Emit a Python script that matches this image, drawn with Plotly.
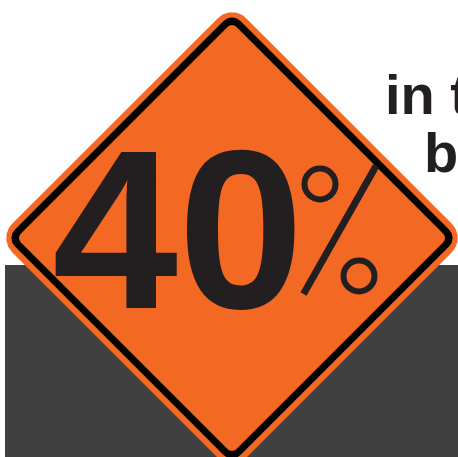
import numpy as np
import plotly.graph_objects as go

# Content
percent_value = ["40"]
percent_sign_parts = ["upper ring", "slash", "lower ring"]
headline_lines = ["in t", "be"]

# Colours
ORANGE = "#F36823"
BLACK = "#050300"
INK = "#231F20"
PANEL = "#404040"

W, H = 458, 457
CX, CY = 232.0, 238.0


def rounded_diamond(half, radius):
    """Diamond of half-diagonal `half` with rounded corners."""
    corners = [(0, -half), (half, 0), (0, half), (-half, 0)]
    start_angles = [-135, -45, 45, 135]
    xs, ys = [], []
    inset = radius * np.sqrt(2)
    for (dx, dy), a in zip(corners, start_angles):
        n = np.hypot(dx, dy)
        ox = CX + dx - dx / n * inset
        oy = CY + dy - dy / n * inset
        t = np.radians(np.linspace(a, a + 90, 24))
        xs.extend(ox + radius * np.cos(t))
        ys.extend(oy + radius * np.sin(t))
    xs.append(xs[0])
    ys.append(ys[0])
    return xs, ys


def filled(x, y, color, name):
    return go.Scatter(x=x, y=y, mode="lines", fill="toself", fillcolor=color,
                      line=dict(width=0, color=color), name=name, hoverinfo="skip")


fig = go.Figure()
fig.add_trace(filled([5, W + 2, W + 2, 5, 5], [265, 265, H + 2, H + 2, 265], PANEL, "panel"))
fig.add_trace(filled(*rounded_diamond(234, 20), ORANGE, "sign edge"))
fig.add_trace(filled(*rounded_diamond(225.5, 12), BLACK, "sign border"))
fig.add_trace(filled(*rounded_diamond(215.5, 6), ORANGE, "sign face"))

# Slash and rings of the percent sign
fig.add_trace(go.Scatter(x=[303.5, 376], y=[294, 166], mode="lines",
                         line=dict(color=INK, width=7), name=percent_sign_parts[1], hoverinfo="skip"))
fig.add_trace(go.Scatter(x=[320, 359], y=[184, 276], mode="markers",
                         marker=dict(symbol="circle-open", size=31, color=INK, line=dict(width=6, color=INK)),
                         name="percent rings", hoverinfo="skip"))

# "40"
fig.add_trace(go.Scatter(x=[178], y=[251], mode="text", text=percent_value,
                         textposition="middle center",
                         textfont=dict(family="Liberation Sans", size=226, color=INK, weight="bold"),
                         name="value", hoverinfo="skip"))
# Headline, cropped by the right edge
fig.add_trace(go.Scatter(x=[385, 424], y=[100, 158], mode="text", text=headline_lines,
                         textposition="middle right",
                         textfont=dict(family="Liberation Sans", size=56, color=INK, weight="bold"),
                         name="headline", hoverinfo="skip"))

fig.update_layout(
    width=W, height=H, margin=dict(l=0, r=0, t=0, b=0),
    paper_bgcolor="white", plot_bgcolor="white", showlegend=False,
    xaxis=dict(range=[0, W], visible=False, fixedrange=True),
    yaxis=dict(range=[H, 0], visible=False, fixedrange=True),
)
fig.write_html("out.html", config={"displayModeBar": False},
               post_script="document.body.style.margin='0';document.documentElement.style.overflow='hidden';")
